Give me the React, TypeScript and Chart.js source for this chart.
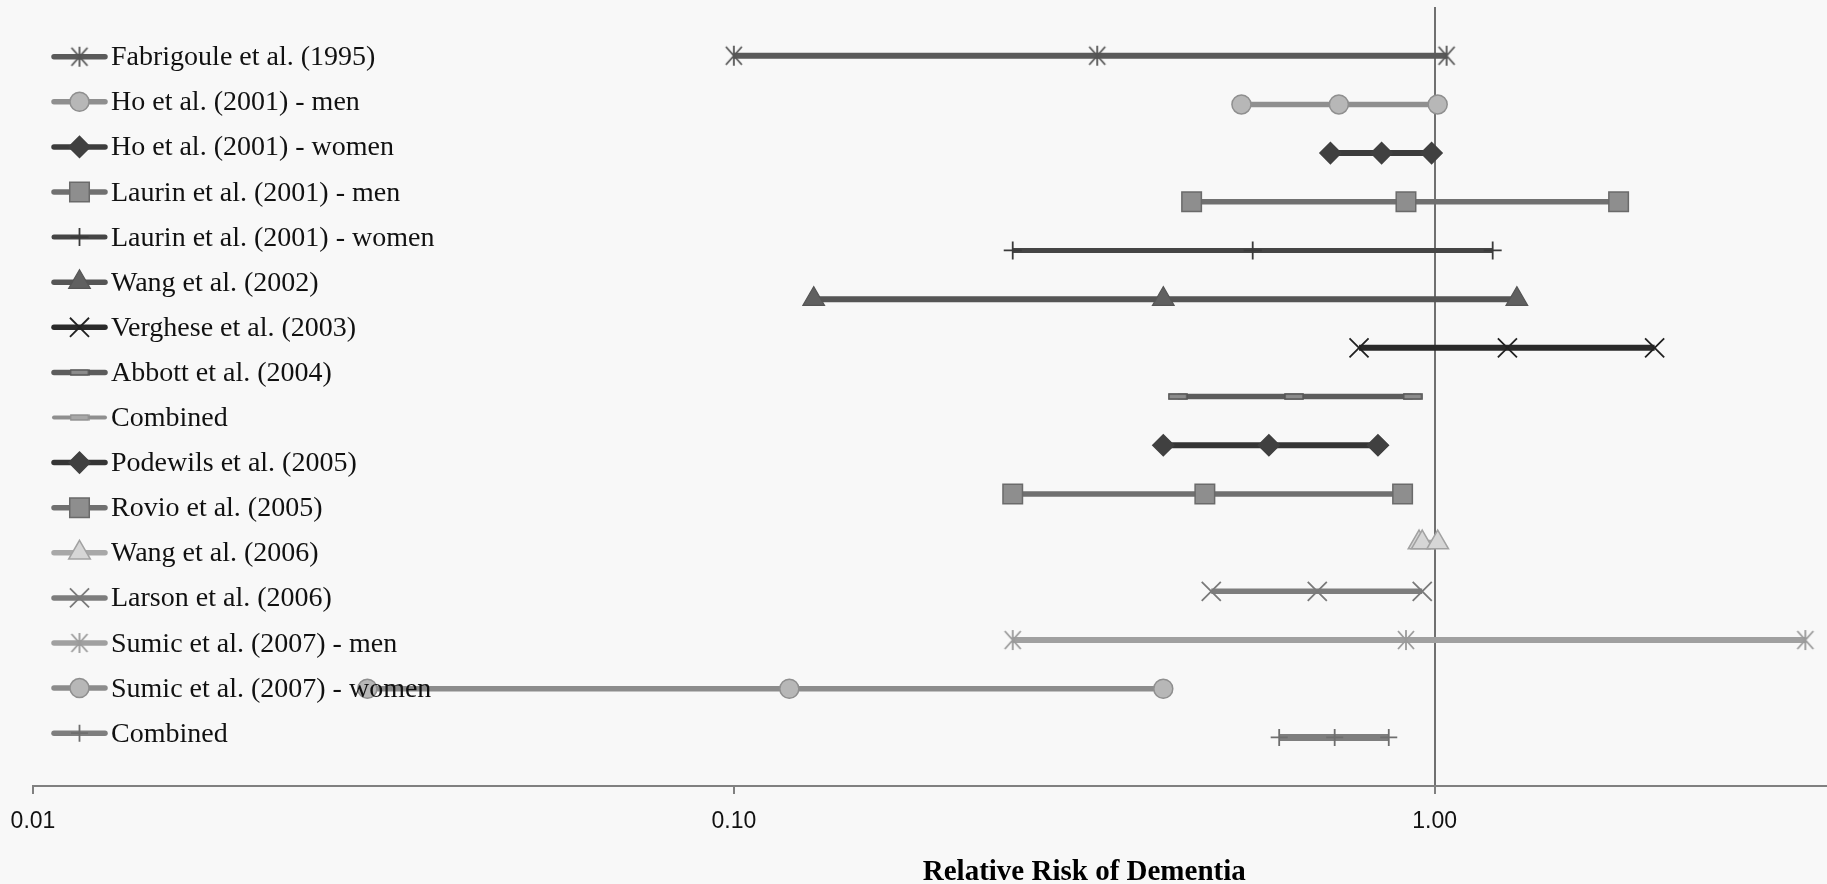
import React, { useEffect, useRef } from "react";
import { Chart, registerables } from "chart.js";
import { drawPoint } from "chart.js/helpers";

Chart.register(...registerables);

// ---------- data ----------
const studies = [
  "Fabrigoule et al. (1995)",
  "Ho et al. (2001) - men",
  "Ho et al. (2001) - women",
  "Laurin et al. (2001) - men",
  "Laurin et al. (2001) - women",
  "Wang et al. (2002)",
  "Verghese et al. (2003)",
  "Abbott et al. (2004)",
  "Combined",
  "Podewils et al. (2005)",
  "Rovio et al. (2005)",
  "Wang et al. (2006)",
  "Larson et al. (2006)",
  "Sumic et al. (2007) - men",
  "Sumic et al. (2007) - women",
  "Combined",
];
const rowPositions = [15, 14, 13, 12, 11, 10, 9, 8, 8, 7, 6, 5, 4, 3, 2, 1];
const lowerCI = [0.10, 0.53, 0.71, 0.45, 0.25, 0.13, 0.78, 0.43, 0.43, 0.41, 0.25, 0.95, 0.48, 0.25, 0.03, 0.60];
const relativeRisk = [0.33, 0.73, 0.84, 0.91, 0.55, 0.41, 1.27, 0.63, 0.63, 0.58, 0.47, 0.96, 0.68, 0.91, 0.12, 0.72];
const upperCI = [1.04, 1.01, 0.99, 1.83, 1.21, 1.31, 2.06, 0.93, 0.93, 0.83, 0.90, 1.01, 0.96, 3.38, 0.41, 0.86];
const xTickValues = [0.01, 0.1, 1, 10];
const referenceValue = 1;
const xAxisTitle = "Relative Risk of Dementia";

// ---------- styles ----------
const lineColors = ["#5a5a5a", "#8f8f8f", "#3c3c3c", "#707070", "#454545", "#555555", "#2a2a2a", "#5c5c5c", "#8f8f8f", "#353535", "#707070", "#a8a8a8", "#7d7d7d", "#a0a0a0", "#8c8c8c", "#7e7e7e"];
const lineWidths = [6, 5.5, 6, 5.5, 5, 6, 6, 5.5, 4, 6, 5.5, 5.5, 5.5, 6, 5.5, 7];
const markerKinds = ["star", "circle", "rectRot", "rect", "cross", "triangle", "crossRot", "dash", "dashLight", "rectRot", "rect", "triangle", "crossRot", "star", "circle", "cross"];
const markerFills = ["#555555", "#b7b7b7", "#404040", "#8e8e8e", "#3a3a3a", "#606060", "#222222", "#8c8c8c", "#a8a8a8", "#404040", "#8e8e8e", "#d6d6d6", "#7a7a7a", "#9a9a9a", "#b7b7b7", "#6e6e6e"];
const markerBorders = ["#555555", "#8f8f8f", "#404040", "#6a6a6a", "#3a3a3a", "#555555", "#222222", "#555555", "#8f8f8f", "#404040", "#6a6a6a", "#a2a2a2", "#7a7a7a", "#9a9a9a", "#8f8f8f", "#6e6e6e"];
const markerRadii = [10, 9.5, 10.5, 13.8, 9, 12.5, 13.5, 10, 10, 10.5, 13.8, 12.5, 13.5, 10, 9.5, 8.5];
const markerBorderWidths = [1.8, 1.5, 1.5, 1.5, 1.8, 1.2, 1.8, 1.5, 1.5, 1.5, 1.5, 1.5, 1.8, 1.8, 1.5, 1.8];

function makeStar(color: string) {
  const c = document.createElement("canvas");
  c.width = 22;
  c.height = 22;
  const g = c.getContext("2d")!;
  g.strokeStyle = color;
  g.lineWidth = 1.8;
  g.beginPath();
  g.moveTo(3, 2); g.lineTo(19, 20);
  g.moveTo(19, 2); g.lineTo(3, 20);
  g.moveTo(11, 1); g.lineTo(11, 21);
  g.stroke();
  return c;
}

function makeDash(fill: string, stroke: string) {
  const c = document.createElement("canvas");
  c.width = 20;
  c.height = 7;
  const g = c.getContext("2d")!;
  g.fillStyle = fill;
  g.fillRect(1, 1, 18, 5);
  g.strokeStyle = stroke;
  g.lineWidth = 1.4;
  g.strokeRect(1, 1, 18, 5);
  return c;
}

const legendPlugin = {
  id: "sideLegend",
  afterDatasetsDraw(chart: any) {
    const ctx = chart.ctx;
    const top = chart.chartArea.top;
    chart.data.datasets.forEach((ds: any, i: number) => {
      const y = top + 49.7 + i * 45.1;
      ctx.save();
      ctx.strokeStyle = ds.borderColor;
      ctx.lineWidth = Math.min(ds.borderWidth, 5.5);
      ctx.lineCap = "round";
      ctx.beginPath();
      ctx.moveTo(54, y);
      ctx.lineTo(105, y);
      ctx.stroke();
      ctx.lineCap = "butt";
      ctx.fillStyle = ds.pointBackgroundColor;
      ctx.strokeStyle = ds.pointBorderColor;
      ctx.lineWidth = ds.pointBorderWidth;
      drawPoint(ctx, { pointStyle: ds.pointStyle, radius: ds.pointRadius, borderWidth: ds.pointBorderWidth, rotation: 0 }, 79.5, y);
      ctx.fillStyle = "#111111";
      ctx.font = '28px "Liberation Serif"';
      ctx.textBaseline = "alphabetic";
      ctx.textAlign = "left";
      ctx.fillText(ds.label, 111, y + 8.5);
      ctx.restore();
    });
  },
};

export default function App() {
  const ref = useRef<HTMLCanvasElement>(null);

  useEffect(() => {
    if (!ref.current) return;
    const styleFor = (i: number) => {
      const k = markerKinds[i];
      if (k === "star") return makeStar(markerBorders[i]);
      if (k === "dash" || k === "dashLight") return makeDash(markerFills[i], markerBorders[i]);
      return k;
    };
    const datasets = studies.map((name, i) => ({
      label: name,
      data: [
        { x: lowerCI[i], y: rowPositions[i] },
        { x: relativeRisk[i], y: rowPositions[i] },
        { x: upperCI[i], y: rowPositions[i] },
      ],
      showLine: true,
      borderColor: lineColors[i],
      borderWidth: lineWidths[i],
      pointStyle: styleFor(i) as any,
      pointRadius: markerRadii[i],
      pointHoverRadius: markerRadii[i],
      pointBackgroundColor: markerFills[i],
      pointBorderColor: markerBorders[i],
      pointBorderWidth: markerBorderWidths[i],
    }));

    const chart = new Chart(ref.current, {
      type: "scatter",
      data: { datasets },
      plugins: [legendPlugin],
      options: {
        animation: false,
        responsive: false,
        maintainAspectRatio: false,
        devicePixelRatio: 1,
        layout: { autoPadding: false, padding: { left: 33, right: 64.5, top: 7, bottom: 0 } },
        plugins: { legend: { display: false }, tooltip: { enabled: false } },
        scales: {
          x: {
            type: "logarithmic",
            position: "bottom",
            min: 0.01,
            max: 10,
            afterBuildTicks: (s: any) => {
              s.ticks = xTickValues.map((v) => ({ value: v, major: true }));
            },
            ticks: {
              autoSkip: false,
              maxRotation: 0,
              padding: 10.6,
              color: "#111111",
              font: { family: "Liberation Sans", size: 23, lineHeight: 1.47 },
              callback: (v: any) => Number(v).toFixed(2),
            },
            grid: {
              display: true,
              drawOnChartArea: true,
              drawTicks: true,
              tickLength: 8,
              color: (c: any) => (c.tick && c.tick.value === referenceValue ? "#707070" : "rgba(0,0,0,0)"),
              tickColor: "#808080",
              lineWidth: 2,
            },
            border: { display: true, color: "#808080", width: 2 },
            title: {
              display: true,
              text: xAxisTitle,
              color: "#000000",
              font: { family: "Liberation Serif", size: 29, weight: "bold" },
              padding: { top: 6.1, bottom: 10 },
            },
          },
          y: {
            type: "linear",
            display: false,
            min: 0,
            max: 16,
          },
        },
      } as any,
    });
    return () => chart.destroy();
  }, []);

  return (
    <div style={{ position: "absolute", left: 0, top: 0, width: 1827, height: 884, overflow: "hidden", background: "#f8f8f8" }}>
      <canvas ref={ref} width={2200} height={900} style={{ position: "absolute", left: 0, top: 0, width: 2200, height: 900 }} />
    </div>
  );
}
